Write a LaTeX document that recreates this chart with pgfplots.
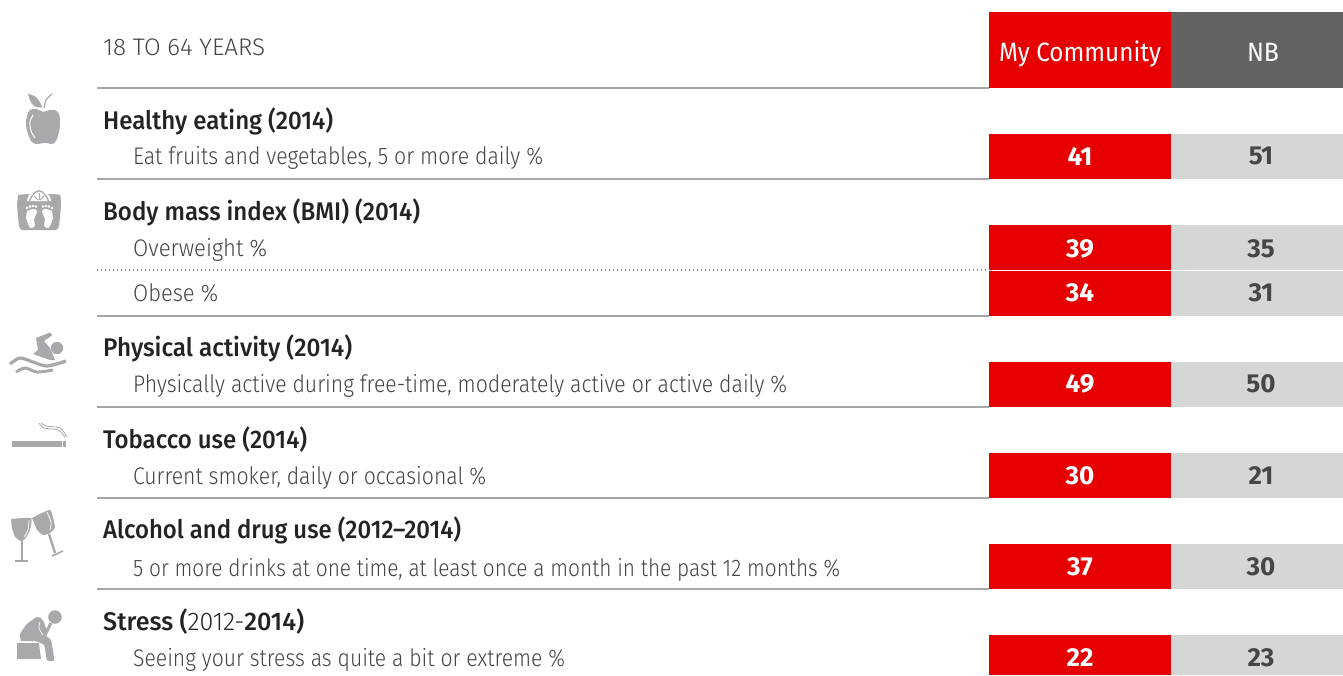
\documentclass[border=0pt]{standalone}
\usepackage{graphicx}
\usepackage{fontspec}
\setmainfont{Fira Sans Light}
\newfontfamily\medfont{Fira Sans Medium}
\newfontfamily\regfont{Fira Sans}
\newfontfamily\boldfont{Fira Sans}[UprightFont=* Bold]
\usepackage{pgfplots}
\usepackage{pgfplotstable}
\pgfplotsset{compat=1.18}
\definecolor{cred}{RGB}{230,0,0}
\definecolor{chead}{RGB}{98,98,98}
\definecolor{cnb}{RGB}{213,215,214}
\definecolor{crule}{RGB}{166,166,166}
\definecolor{cicon}{RGB}{167,169,172}
\definecolor{ctitle}{RGB}{35,35,35}
\definecolor{csub}{RGB}{68,68,68}
\definecolor{cval}{RGB}{70,70,70}

% rows: centre of the value, then the two values
\pgfplotstableread{
y mc nb
156 41 51
249 39 35
293 34 31
384 49 50
476 30 21
567 37 30
658 22 23
}\rows

% text squeezed to the width measured on the picture
\newcommand{\fit}[2]{\resizebox{#1pt}{\height}{#2}}
\newcommand{\tlabel}[3]{\node[anchor=base west,inner sep=0pt,text=ctitle,font=\fontsize{25.5}{28}\medfont] at (axis cs:103,#1) {\fit{#2}{#3}};}
\newcommand{\slabel}[3]{\node[anchor=base west,inner sep=0pt,text=csub,font=\fontsize{24}{28}\selectfont] at (axis cs:133,#1) {\fit{#2}{#3}};}
\newcommand{\cell}[5]{\addplot[fill=#5,draw=none] coordinates {(#1,#3) (#2,#3) (#2,#4) (#1,#4)} -- cycle;}
\newcommand{\rowrule}[1]{\addplot[crule,line width=2pt] coordinates {(97,#1) (989,#1)};}

\begin{document}
\begin{tikzpicture}
\begin{axis}[
  scale only axis, width=1343pt, height=675pt,
  xmin=0, xmax=1343, ymin=0, ymax=675, y dir=reverse,
  hide axis, clip=false
]
% keeps the page the size of the picture
\addplot[fill=white,draw=none] coordinates {(0,0) (1343,0) (1343,675) (0,675)} -- cycle;

% header cells
\cell{989}{1171}{12}{88}{cred}
\cell{1171}{1343}{12}{88}{chead}

% value cells
\cell{989}{1171}{134}{179}{cred}  \cell{1171}{1343}{134}{179}{cnb}
\cell{989}{1171}{225}{270}{cred}  \cell{1171}{1343}{225}{270}{cnb}
\cell{989}{1171}{271}{316}{cred}  \cell{1171}{1343}{271}{316}{cnb}
\cell{989}{1171}{362}{407}{cred}  \cell{1171}{1343}{362}{407}{cnb}
\cell{989}{1171}{453}{498}{cred}  \cell{1171}{1343}{453}{498}{cnb}
\cell{989}{1171}{544}{589}{cred}  \cell{1171}{1343}{544}{589}{cnb}
\cell{989}{1171}{635}{675}{cred}  \cell{1171}{1343}{635}{675}{cnb}

% rules
\rowrule{88}\rowrule{179}\rowrule{316}\rowrule{407}\rowrule{498}\rowrule{589}
\addplot[crule!90!black,line width=1.4pt,dash pattern=on 1.4pt off 2.6pt] coordinates {(97,270) (989,270)};

% values
\addplot[draw=none,mark=none,point meta=explicit symbolic,
  nodes near coords={\fontsize{26}{28}\boldfont\pgfplotspointmeta},
  every node near coord/.append style={anchor=center,inner sep=0pt,text=white}]
  table[x expr=1080,y=y,meta=mc] {\rows};
\addplot[draw=none,mark=none,point meta=explicit symbolic,
  nodes near coords={\fontsize{26}{28}\boldfont\pgfplotspointmeta},
  every node near coord/.append style={anchor=center,inner sep=0pt,text=cval}]
  table[x expr=1261,y=y,meta=nb] {\rows};

% header text
\node[anchor=base west,inner sep=0pt,text=csub,font=\fontsize{24}{28}\selectfont] at (axis cs:103,55) {\fit{162}{18 TO 64 YEARS}};
\node[anchor=base,inner sep=0pt,text=white,font=\fontsize{26.5}{28}\regfont] at (axis cs:1080,61) {\fit{162}{My Community}};
\node[anchor=base,inner sep=0pt,text=white,font=\fontsize{26.5}{28}\regfont] at (axis cs:1263,61) {\fit{32}{NB}};

% row text
\tlabel{129.5}{230}{Healthy eating (2014)}
\slabel{164}{410}{Eat fruits and vegetables, 5 or more daily \%}
\tlabel{220.5}{317}{Body mass index (BMI) (2014)}
\slabel{256}{134}{Overweight \%}
\slabel{301}{85}{Obese \%}
\tlabel{356.5}{249}{Physical activity (2014)}
\slabel{392}{654}{Physically active during free-time, moderately active or active daily \%}
\tlabel{448.5}{204}{Tobacco use (2014)}
\slabel{484}{353}{Current smoker, daily or occasional \%}
\tlabel{538.5}{358}{Alcohol and drug use (2012–2014)}
\slabel{576}{707}{5 or more drinks at one time, at least once a month in the past 12 months \%}
\tlabel{630.5}{201}{Stress ({\normalfont 2012-}2014)}
\slabel{666}{432}{Seeing your stress as quite a bit or extreme \%}

% apple
\addplot[fill=cicon,draw=none,smooth,tension=0.6] coordinates {(43,112) (36,109) (30,110) (27,116) (26,125) (28,134) (32,142) (37,144) (43,143) (47,143) (52,144) (56,141) (59,132) (60,122) (59,114) (55,110) (50,110)} -- cycle;
\addplot[white,line width=1pt,smooth] coordinates {(33,115) (30,122) (31,131) (35,138)};
\addplot[fill=cicon,draw=none,smooth,tension=0.5] coordinates {(28,94) (36,97) (42,107) (34,106) (30,100)} -- cycle;
\addplot[cicon,line width=1.2pt,smooth] coordinates {(44,108) (46,100) (52,94)};

% scales
\addplot[fill=cicon,draw=none,smooth,tension=0.25] coordinates {(18,195) (28,194) (50,194) (60,195) (61,205) (59,226) (56,230) (39,230) (22,230) (19,226) (17,205)} -- cycle;
\addplot[fill=white,draw=none,smooth,tension=0.8] coordinates {(27,201) (30,194) (39,188) (48,194) (51,201)} -- cycle;
\addplot[fill=cicon,draw=none,smooth,tension=0.8] coordinates {(29,201) (32,195) (39,190) (46,195) (49,201)} -- cycle;
\addplot[fill=white,draw=none,smooth,tension=0.8] coordinates {(30.5,201) (33,196) (39,191.5) (45,196) (47.5,201)} -- cycle;
\addplot[cicon,line width=0.8pt] coordinates {(39,193) (39,200)};
\addplot[cicon,line width=0.8pt] coordinates {(34,196) (38,200)};
\addplot[cicon,line width=0.8pt] coordinates {(44,196) (40,200)};
\addplot[fill=white,draw=none,smooth,tension=0.7] coordinates {(27,211) (34,209) (37,212) (34,219) (35,225) (32,228) (29,226) (26,218)} -- cycle;
\addplot[fill=white,draw=none,smooth,tension=0.7] coordinates {(52,211) (45,209) (42,212) (45,219) (44,225) (47,228) (50,226) (53,218)} -- cycle;
\addplot[only marks,mark=*,mark size=1pt,white,mark options={draw=none}] coordinates {(27,208) (30,206.5) (33,206) (36,206.5) (52,208) (49,206.5) (46,206) (43,206.5)};

% swimmer
\addplot[fill=cicon,draw=none] coordinates {(50,332.5) (52.5,335) (44,341) (50,348) (55,360) (50,360) (33,354) (38,350) (36,338)} -- cycle;
\addplot[only marks,mark=*,mark size=6pt,cicon,mark options={draw=none}] coordinates {(57,348)};
\addplot[white,line width=1.2pt] coordinates {(28,358) (60,368)};
\addplot[cicon,line width=3.2pt,smooth] coordinates {(10,364) (20,358) (33,362) (47,366) (66,361)};
\addplot[cicon,line width=3pt,smooth] coordinates {(16,372) (25,368) (37,372) (53,370)};

% cigarette
\addplot[fill=cicon,draw=none] coordinates {(12,441) (62,441) (62,447) (12,447)} -- cycle;
\addplot[fill=cicon,draw=none] coordinates {(63,441) (66,441) (66,447) (63,447)} -- cycle;
\addplot[cicon,line width=0.8pt,smooth] coordinates {(39,423) (44,428) (58,430) (65,437)};
\addplot[cicon,line width=0.8pt,smooth] coordinates {(41,423) (46,426) (60,428) (67,437)};

% glasses
\addplot[fill=cicon,draw=none,smooth,tension=0.3] coordinates {(11,519) (31,518) (30,530) (25,539) (21,541) (15,537) (12,528)} -- cycle;
\addplot[white,line width=0.8pt,smooth] coordinates {(29,520) (28,530) (24,537)};
\addplot[cicon,line width=2.6pt] coordinates {(22,540) (22,560)};
\addplot[cicon,line width=2.2pt] coordinates {(15,561) (28,561)};
\addplot[fill=cicon,draw=none,smooth,tension=0.3] coordinates {(32,518) (50,510) (55,527) (50,533) (43,535) (37,530)} -- cycle;
\addplot[white,line width=0.8pt,smooth] coordinates {(47,512) (51,522) (50,530)};
\addplot[cicon,line width=2.4pt] coordinates {(49,534) (55,553)};
\addplot[cicon,line width=1.6pt] coordinates {(52,556) (63,551)};

% person with head in hands
\addplot[fill=cicon,draw=none] coordinates {(17,643) (39,643) (41,659) (17,659)} -- cycle;
\addplot[fill=cicon,draw=none,smooth,tension=0.3] coordinates {(21,641) (20,634) (27,624) (37,617) (42,619) (44,628) (46,636) (51,640) (54,660) (47,660) (44,645) (35,641)} -- cycle;
\addplot[only marks,mark=*,mark size=6.5pt,cicon,mark options={draw=none}] coordinates {(55,617)};
\addplot[cicon,line width=3pt] coordinates {(42,621) (46,633) (51,623)};
\addplot[white,line width=0.7pt,smooth] coordinates {(40,622) (39,628) (43,635)};

\end{axis}
\end{tikzpicture}
\end{document}
